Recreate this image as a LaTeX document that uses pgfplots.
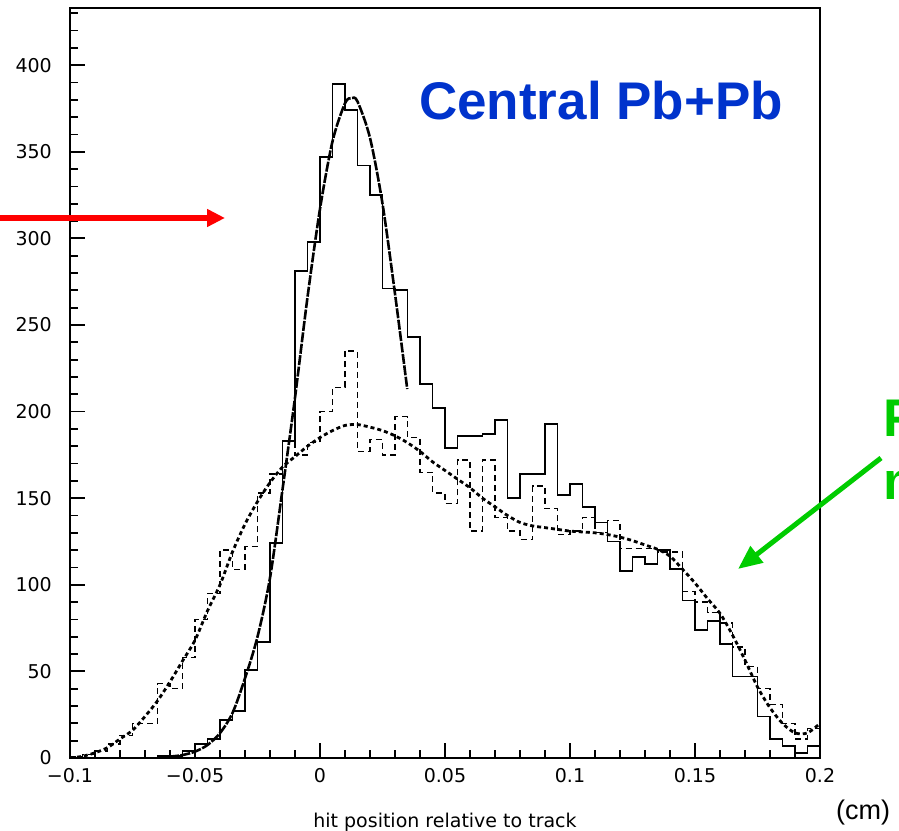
\documentclass[border=0pt]{standalone}
\usepackage{fontspec}
\setmainfont{Liberation Sans}
\newfontfamily\dejavu{DejaVu Sans}
\usepackage{pgfplots}
\pgfplotsset{compat=1.18}
\usetikzlibrary{arrows.meta}
\definecolor{titleblue}{RGB}{0,51,204}
\definecolor{arrgreen}{RGB}{0,204,0}
\definecolor{arrred}{RGB}{255,0,0}

\pgfplotstableread{
x y
-0.1 0
-0.095 0
-0.09 0
-0.085 0
-0.08 0
-0.075 0
-0.07 0
-0.065 1
-0.06 1
-0.055 4
-0.05 8
-0.045 11
-0.04 22
-0.035 27
-0.03 51
-0.025 67
-0.02 124
-0.015 183
-0.01 281
-0.005 298
0 347
0.005 389
0.01 374
0.015 342
0.02 325
0.025 271
0.03 270
0.035 243
0.04 216
0.045 202
0.05 179
0.055 186
0.06 186
0.065 187
0.07 195
0.075 150
0.08 164
0.085 164
0.09 193
0.095 152
0.1 158
0.105 145
0.11 136
0.115 125
0.12 108
0.125 116
0.13 112
0.135 120
0.14 109
0.145 91
0.15 74
0.155 79
0.16 66
0.165 47
0.17 47
0.175 24
0.18 11
0.185 7
0.19 3
0.195 7
0.2 7
}\central

\pgfplotstableread{
x y
-0.1 1
-0.095 2
-0.09 4
-0.085 8
-0.08 13
-0.075 20
-0.07 20
-0.065 43
-0.06 40
-0.055 58
-0.05 80
-0.045 95
-0.04 120
-0.035 109
-0.03 122
-0.025 153
-0.02 164
-0.015 183
-0.01 175
-0.005 182
0 200
0.005 214
0.01 235
0.015 177
0.02 184
0.025 175
0.03 197
0.035 185
0.04 165
0.045 153
0.05 147
0.055 172
0.06 131
0.065 172
0.07 139
0.075 131
0.08 126
0.085 157
0.09 144
0.095 129
0.1 131
0.105 139
0.11 130
0.115 137
0.12 121
0.125 121
0.13 121
0.135 119
0.14 119
0.145 96
0.15 90
0.155 84
0.16 78
0.165 64
0.17 53
0.175 40
0.18 31
0.185 20
0.19 11
0.195 17
0.2 17
}\background

\pgfplotstableread{
x y
-0.065 0.3
-0.06 0.8
-0.055 1.7
-0.05 3.7
-0.045 7.5
-0.04 14.4
-0.035 26
-0.03 46
-0.025 70
-0.02 104
-0.015 155
-0.01 208
-0.005 266
0 317
0.005 356
0.01 378
0.0127 381
0.015 379
0.02 358
0.025 320
0.03 268
0.0349 213
}\gausfit

\pgfplotstableread{
x y
-0.1 0
-0.095 1
-0.09 3
-0.085 6
-0.08 11
-0.075 16
-0.07 24
-0.065 33
-0.06 44
-0.055 56
-0.05 68
-0.045 85
-0.04 100
-0.035 119
-0.03 135
-0.025 148
-0.02 159
-0.015 168
-0.01 174
-0.005 180
0 185
0.005 189
0.01 192
0.015 192.5
0.02 191
0.025 189
0.03 186
0.035 182
0.04 177
0.045 171
0.05 166
0.055 161
0.06 156
0.065 150
0.07 145
0.075 140
0.08 136
0.085 134
0.09 133
0.095 132
0.1 131
0.105 130.5
0.11 130
0.115 129
0.12 127.5
0.125 125.5
0.13 123
0.135 120.5
0.14 116.5
0.145 109
0.15 101
0.155 92
0.16 83.5
0.165 71
0.17 56.5
0.175 41
0.18 29
0.185 20
0.19 14.5
0.195 14.5
0.2 20
}\bgfit

\begin{document}
\begin{tikzpicture}[x=1pt,y=1pt]
\begin{axis}[
  at={(70pt,72pt)}, anchor=south west,
  scale only axis, width=750pt, height=750pt,
  xmin=-0.1, xmax=0.2, ymin=0, ymax=433,
  axis line style={line width=2pt},
  tick align=inside, xtick pos=bottom, ytick pos=left,
  scaled x ticks=false, scaled y ticks=false,
  xtick={-0.1,-0.05,0,0.05,0.1,0.15,0.2},
  xticklabels={−0.1,−0.05,0,0.05,0.1,0.15,0.2},
  ytick={0,50,100,150,200,250,300,350,400},
  yticklabels={0,50,100,150,200,250,300,350,400},
  minor xtick={-0.1,-0.09,...,0.2},
  minor ytick={0,10,...,430},
  major tick length=15pt, minor tick length=8pt,
  every tick/.style={black, line width=1.8pt},
  xticklabel style={font=\dejavu\fontsize{19}{19}\selectfont, inner sep=0pt, yshift=-10pt},
  yticklabel style={font=\dejavu\fontsize{19}{19}\selectfont, inner sep=0pt, xshift=-18pt},
  xlabel={hit position relative to track},
  xlabel style={font=\dejavu\fontsize{19}{19}\selectfont, at={(axis description cs:0.5,0)}, anchor=base, yshift=-69pt, inner sep=0pt},
]
\addplot[const plot, black, line width=1.7pt] table {\central};
\addplot[const plot, black, line width=1.3pt, dash pattern=on 6pt off 4pt] table {\background};
\addplot[smooth, black, line width=2.6pt, dash pattern=on 10pt off 1.5pt] table {\gausfit};
\addplot[smooth, black, line width=2.8pt, dash pattern=on 4pt off 3pt] table {\bgfit};
\end{axis}
\draw[arrred, line width=6pt, -{Triangle[length=18pt,width=17pt]}] (0,612) -- (225,612);
\draw[arrgreen, line width=5pt, -{Triangle[length=24pt,width=20pt]}] (881,372) -- (738,261);
\node[anchor=base west, inner sep=0pt, text=titleblue, font=\fontsize{53}{53}\selectfont\bfseries] at (419,710) {Central Pb+Pb};
\node[anchor=base west, inner sep=0pt, text=arrgreen, font=\fontsize{53}{53}\selectfont\bfseries] at (883,393) {Fake};
\node[anchor=base west, inner sep=0pt, text=arrgreen, font=\fontsize{53}{53}\selectfont\bfseries] at (883,330) {matches};
\node[anchor=base west, inner sep=0pt, font=\fontsize{27}{27}\selectfont] at (836,11) {(cm)};
\pgfresetboundingbox
\path[use as bounding box] (0,0) rectangle (899,830);
\end{tikzpicture}
\end{document}
